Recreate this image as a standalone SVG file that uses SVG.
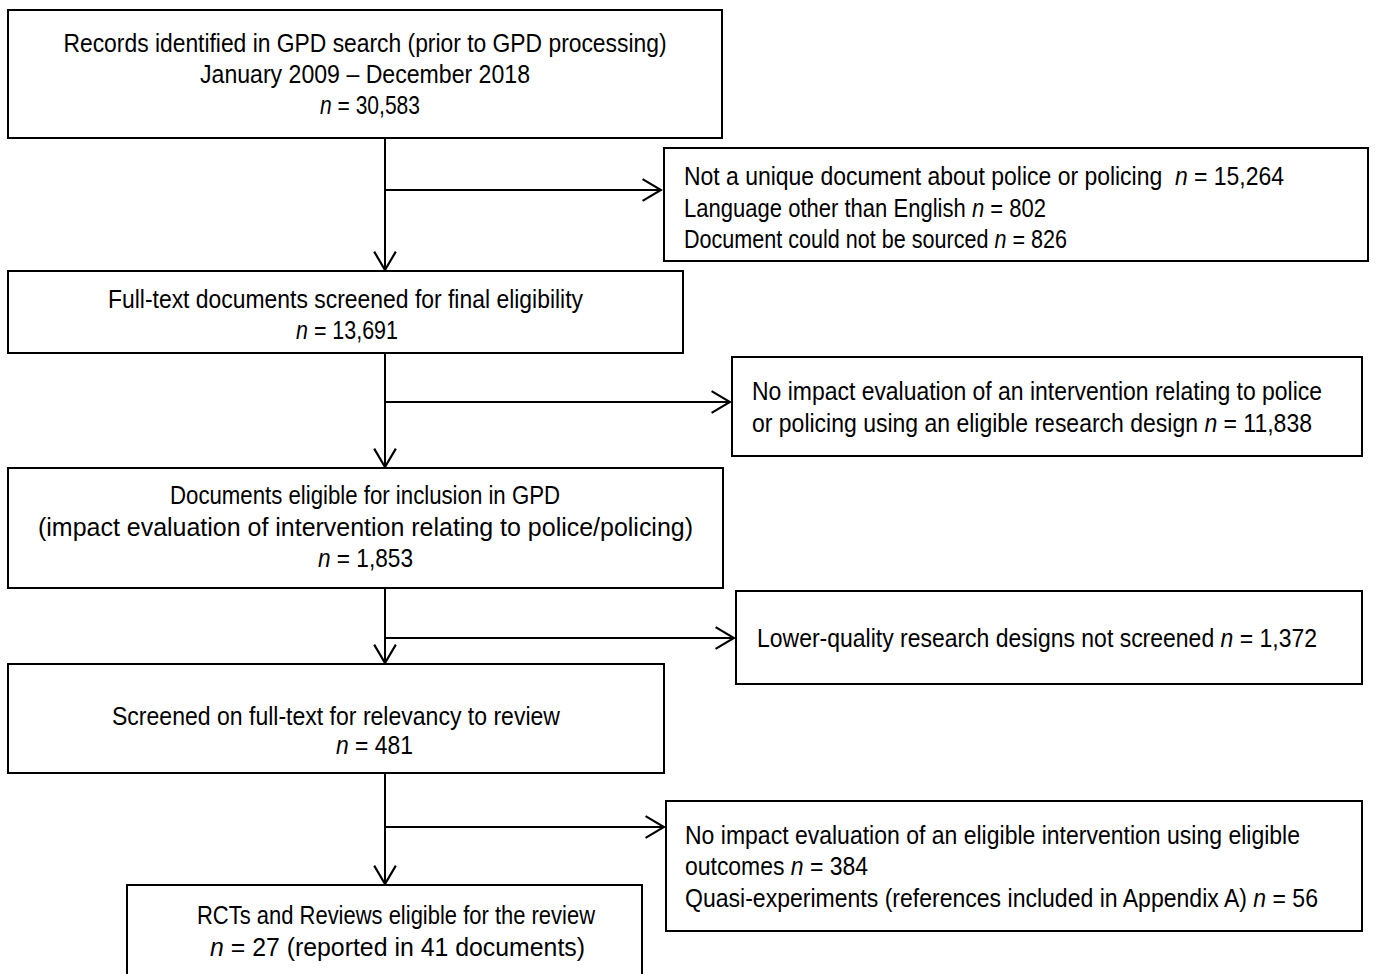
<svg xmlns="http://www.w3.org/2000/svg" width="1376" height="974" viewBox="0 0 1376 974">
<style>
.box{fill:#fff;stroke:#000;stroke-width:2}
.t{font-family:"Liberation Sans Narrow","Arial Narrow","Liberation Sans",Arial,sans-serif;font-size:25px;fill:#000}
.c{text-anchor:middle}
.i{font-style:italic}
.ln{fill:none;stroke:#000;stroke-width:2}
</style>
<defs>
<marker id="ah" markerUnits="userSpaceOnUse" markerWidth="24" markerHeight="26" viewBox="-20 -12 22 24" refX="0" refY="0" orient="auto">
<path d="M-17,-10 L0,0 L-17,10" fill="none" stroke="#000" stroke-width="2"/>
</marker>
</defs>
<rect width="1376" height="974" fill="#fff"/>
<g id="connectors">
<path class="ln" d="M385,138 V270" marker-end="url(#ah)"/>
<path class="ln" d="M385,190 H661" marker-end="url(#ah)"/>
<path class="ln" d="M385,353 V467" marker-end="url(#ah)"/>
<path class="ln" d="M385,402 H730" marker-end="url(#ah)"/>
<path class="ln" d="M385,588 V663" marker-end="url(#ah)"/>
<path class="ln" d="M385,638 H734" marker-end="url(#ah)"/>
<path class="ln" d="M385,773 V884" marker-end="url(#ah)"/>
<path class="ln" d="M385,827 H664" marker-end="url(#ah)"/>
</g>
<g id="n1">
<rect class="box" x="8" y="10" width="714" height="128"/>
<text class="t c" x="365" y="52" textLength="603" lengthAdjust="spacingAndGlyphs">Records identified in GPD search (prior to GPD processing)</text>
<text class="t c" x="365" y="83" textLength="330" lengthAdjust="spacingAndGlyphs">January 2009 – December 2018</text>
<text class="t c" x="370" y="114" textLength="100" lengthAdjust="spacingAndGlyphs"><tspan class="i">n</tspan> = 30,583</text>
</g>
<g id="x1">
<rect class="box" x="664" y="148" width="704" height="113"/>
<text class="t" x="684" y="185" textLength="600" lengthAdjust="spacingAndGlyphs">Not a unique document about police or policing &#160;<tspan class="i">n</tspan> = 15,264</text>
<text class="t" x="684" y="217" textLength="362" lengthAdjust="spacingAndGlyphs">Language other than English <tspan class="i">n</tspan> = 802</text>
<text class="t" x="684" y="248" textLength="383" lengthAdjust="spacingAndGlyphs">Document could not be sourced <tspan class="i">n</tspan> = 826</text>
</g>
<g id="n2">
<rect class="box" x="8" y="271" width="675" height="82"/>
<text class="t c" x="345.5" y="308" textLength="475" lengthAdjust="spacingAndGlyphs">Full-text documents screened for final eligibility</text>
<text class="t c" x="347" y="339" textLength="102" lengthAdjust="spacingAndGlyphs"><tspan class="i">n</tspan> = 13,691</text>
</g>
<g id="x2">
<rect class="box" x="732" y="357" width="630" height="99"/>
<text class="t" x="752" y="400" textLength="570" lengthAdjust="spacingAndGlyphs">No impact evaluation of an intervention relating to police</text>
<text class="t" x="752" y="432" textLength="560" lengthAdjust="spacingAndGlyphs">or policing using an eligible research design <tspan class="i">n</tspan> = 11,838</text>
</g>
<g id="n3">
<rect class="box" x="8" y="468" width="715" height="120"/>
<text class="t c" x="365" y="504" textLength="390" lengthAdjust="spacingAndGlyphs">Documents eligible for inclusion in GPD</text>
<text class="t c" x="365.5" y="536" textLength="655" lengthAdjust="spacingAndGlyphs">(impact evaluation of intervention relating to police/policing)</text>
<text class="t c" x="365.5" y="567" textLength="95" lengthAdjust="spacingAndGlyphs"><tspan class="i">n</tspan> = 1,853</text>
</g>
<g id="x3">
<rect class="box" x="736" y="591" width="626" height="93"/>
<text class="t" x="757" y="647" textLength="560" lengthAdjust="spacingAndGlyphs">Lower-quality research designs not screened <tspan class="i">n</tspan> = 1,372</text>
</g>
<g id="n4">
<rect class="box" x="8" y="664" width="656" height="109"/>
<text class="t c" x="336" y="725" textLength="448" lengthAdjust="spacingAndGlyphs">Screened on full-text for relevancy to review</text>
<text class="t c" x="374.5" y="754" textLength="77" lengthAdjust="spacingAndGlyphs"><tspan class="i">n</tspan> = 481</text>
</g>
<g id="x4">
<rect class="box" x="666" y="801" width="696" height="130"/>
<text class="t" x="685" y="844" textLength="615" lengthAdjust="spacingAndGlyphs">No impact evaluation of an eligible intervention using eligible</text>
<text class="t" x="685" y="875" textLength="183" lengthAdjust="spacingAndGlyphs">outcomes <tspan class="i">n</tspan> = 384</text>
<text class="t" x="685" y="907" textLength="633" lengthAdjust="spacingAndGlyphs">Quasi-experiments (references included in Appendix A) <tspan class="i">n</tspan> = 56</text>
</g>
<g id="n5">
<rect class="box" x="127" y="885" width="515" height="110"/>
<text class="t c" x="396" y="924" textLength="398" lengthAdjust="spacingAndGlyphs">RCTs and Reviews eligible for the review</text>
<text class="t c" x="397.5" y="956" textLength="375" lengthAdjust="spacingAndGlyphs"><tspan class="i">n</tspan> = 27 (reported in 41 documents)</text>
</g>
</svg>
